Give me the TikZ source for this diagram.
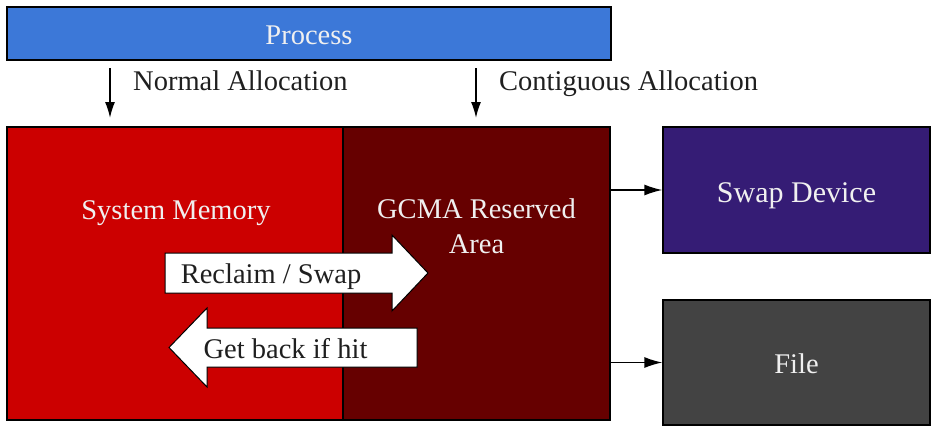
\documentclass[tikz,border=0pt]{standalone}
\usepackage{fontspec}
\setmainfont{Liberation Serif}
\usetikzlibrary{arrows.meta}
\definecolor{procblue}{HTML}{3C78D8}
\definecolor{memred}{HTML}{CC0000}
\definecolor{gcmared}{HTML}{660000}
\definecolor{swappurple}{HTML}{351C75}
\definecolor{filegray}{HTML}{434343}
\definecolor{softwhite}{HTML}{F0F0F0}
\begin{document}
\begin{tikzpicture}[x=1pt,y=-1pt,
  box/.style={draw=black,line width=1.3pt,inner sep=0pt},
  boxtext/.style={font=\fontsize{28.5}{35}\selectfont,text=softwhite,inner sep=0pt,anchor=base,align=center},
  plaintext/.style={font=\fontsize{28.5}{35}\selectfont,text=black!88,inner sep=0pt},
  conn/.style={line width=1.5pt,-{Latex[length=18pt,width=11pt]}},
  downconn/.style={line width=1.5pt,-{Latex[length=16pt,width=10pt]}},
  blockarrow/.style={fill=white,draw=black,line width=1pt,line join=miter}]
\useasboundingbox (0,0) rectangle (936,428);

% boxes
\node[box,fill=procblue,minimum width=604pt,minimum height=53pt] (proc) at (309,33.5) {};
\node[box,fill=memred,minimum width=336pt,minimum height=293pt] (sysmem) at (175,273.5) {};
\node[box,fill=gcmared,minimum width=267pt,minimum height=293pt] (gcma) at (476.5,273.5) {};
\node[box,fill=swappurple,minimum width=267pt,minimum height=126pt] (swap) at (796.5,190) {};
\node[box,fill=filegray,minimum width=267pt,minimum height=125pt] (file) at (796.5,362.5) {};

% box labels (base of a two-line label is its last line)
\node[boxtext] (proclbl) at (309,45) {Process};
\node[boxtext] (sysmemlbl) at (176,219) {System Memory};
\node[boxtext] (gcmalbl) at (476.5,253) {GCMA Reserved\\Area};
\node[boxtext,font=\fontsize{30}{35}\selectfont] (swaplbl) at (796.5,202) {Swap Device};
\node[boxtext] (filelbl) at (796.5,373) {File};

% allocation arrows
\coordinate (normtop) at (110,68);
\coordinate (normbot) at (110,118);
\coordinate (conttop) at (476,68);
\coordinate (contbot) at (476,118);
\draw[downconn] (normtop) -- (normbot);
\draw[downconn] (conttop) -- (contbot);
\node[plaintext,anchor=base west] (normlbl) at (133,90) {Normal Allocation};
\node[plaintext,anchor=base west] (contlbl) at (499,90) {Contiguous Allocation};

% connectors to backing stores
\draw[conn] (gcma.east |- swap.west) -- (swap.west);
\draw[conn] (gcma.east |- file.west) -- (file.west);

% reclaim / get-back block arrows
\draw[blockarrow] (165,253) -- (392,253) -- (392,235) -- (428,273) -- (392,311)
  -- (392,293) -- (165,293) -- cycle;
\node[plaintext,anchor=base] (reclaimlbl) at (271,283) {Reclaim / Swap};
\draw[blockarrow] (417,328) -- (207,328) -- (207,308) -- (169,347.5) -- (207,387)
  -- (207,367) -- (417,367) -- cycle;
\node[plaintext,anchor=base] (getbacklbl) at (285.5,358) {Get back if hit};
\end{tikzpicture}
\end{document}
